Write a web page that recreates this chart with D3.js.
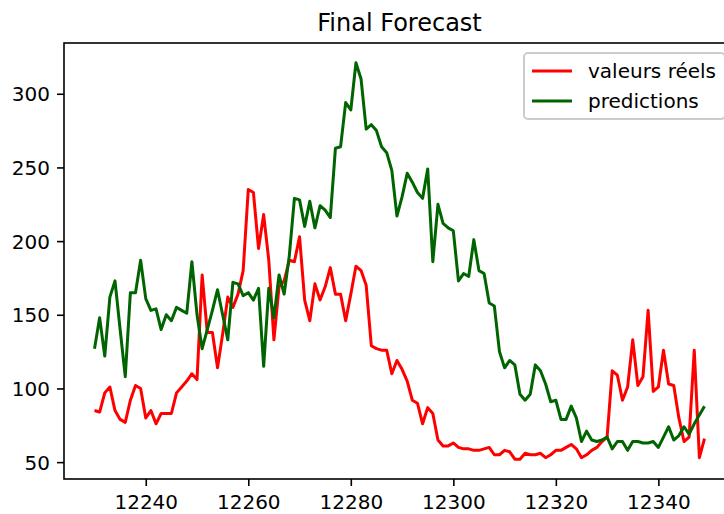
<!DOCTYPE html>
<html>
<head>
<meta charset="utf-8">
<script src="https://cdn.jsdelivr.net/npm/d3@7"></script>
<style>
  html, body { margin: 0; padding: 0; background: #fff; }
  svg { display: block; font-family: "DejaVu Sans", sans-serif; }
</style>
</head>
<body>
<svg id="chart" width="724" height="514"></svg>
<script>
// ---- data ----
const startIndex = 12230;
const realValues = [85, 84, 97, 101, 85, 79, 77, 92, 102, 100,
  80, 85, 76, 83, 83, 83, 97, 101, 105, 110,
  106, 177, 138, 138, 114, 137, 162, 155, 164, 180,
  235, 233, 195, 218, 187, 133, 169, 173, 187, 186,
  203, 160, 146, 171, 160, 169, 182, 164, 164, 146,
  164, 183, 180, 170, 129, 127, 126, 126, 110, 119,
  113, 105, 92, 90, 76, 87, 83, 65, 61, 61,
  63, 60, 59, 59, 58, 58, 59, 60, 55, 55,
  58, 57, 52, 52, 56, 55, 55, 56, 53, 55,
  58, 58, 60, 62, 59, 53, 55, 58, 60, 64,
  67, 112, 109, 92, 101, 133, 102, 108, 153, 98,
  101, 126, 103, 102, 80, 64, 67, 126, 53, 66];
const predValues = [127, 148, 122, 162, 173, 140, 108, 165, 165, 187,
  161, 153, 154, 140, 150, 146, 155, 153, 151, 186,
  150, 127, 140, 153, 167, 150, 133, 172, 171, 163,
  165, 160, 168, 115, 168, 148, 177, 164, 190, 229,
  228, 210, 227, 209, 224, 221, 216, 263, 264, 294,
  289, 321, 310, 276, 279, 275, 264, 260, 248, 217,
  230, 246, 240, 233, 229, 249, 186, 225, 212, 209,
  207, 173, 178, 176, 201, 180, 178, 158, 156, 125,
  114, 119, 116, 96, 92, 96, 116, 112, 103, 91,
  92, 79, 79, 88, 80, 64, 71, 65, 64, 65,
  67, 59, 64, 64, 58, 64, 64, 63, 63, 64,
  60, 67, 74, 65, 68, 74, 69, 76, 82, 88];
const xTicks = [12240, 12260, 12280, 12300, 12320, 12340];
const yTicks = [50, 100, 150, 200, 250, 300];
const seriesNames = ["valeurs réels", "predictions"];
const seriesColors = ["#ff0000", "#006400"];
const titleText = "Final Forecast";

(function () {
  // ---- layout ----
  const pL = 64, pR = 735, pT = 43, pB = 479;
  const svg = d3.select("#chart");

  const xs = realValues.map((_, i) => startIndex + i);
  const xMin = d3.min(xs), xMax = d3.max(xs);
  const xPad = (xMax - xMin) * 0.05;
  const allY = realValues.concat(predValues);
  const yMin = d3.min(allY), yMax = d3.max(allY);
  const yPad = (yMax - yMin) * 0.05;

  const x = d3.scaleLinear().domain([xMin - xPad, xMax + xPad]).range([pL, pR]);
  const y = d3.scaleLinear().domain([yMin - yPad, yMax + yPad]).range([pB, pT]);

  const line = d3.line().x((d, i) => x(startIndex + i)).y(d => y(d));
  [realValues, predValues].forEach((vals, k) => {
    svg.append("path")
      .datum(vals)
      .attr("d", line)
      .attr("fill", "none")
      .attr("stroke", seriesColors[k])
      .attr("stroke-width", 3)
      .attr("stroke-linejoin", "round")
      .attr("stroke-linecap", "butt");
  });

  const xAxis = d3.axisBottom(x).tickValues(xTicks).tickFormat(d3.format("d"))
    .tickSize(7).tickPadding(7);
  const yAxis = d3.axisLeft(y).tickValues(yTicks).tickFormat(d3.format("d"))
    .tickSize(7).tickPadding(7);

  const gx = svg.append("g").attr("transform", `translate(0,${pB})`).call(xAxis);
  const gy = svg.append("g").attr("transform", `translate(${pL},0)`).call(yAxis);
  [gx, gy].forEach(g => {
    g.select(".domain").remove();
    g.selectAll(".tick line").attr("stroke", "#000").attr("stroke-width", 1.6);
    g.selectAll(".tick text").attr("fill", "#000").style("font-size", "20px")
      .style("font-family", "DejaVu Sans");
  });
  gx.selectAll(".tick text").attr("dy", null).attr("y", 30);
  gy.selectAll(".tick text").attr("dy", "0.36em");

  svg.append("rect")
    .attr("x", pL).attr("y", pT)
    .attr("width", pR - pL).attr("height", pB - pT)
    .attr("fill", "none").attr("stroke", "#000").attr("stroke-width", 1.6);

  svg.append("text")
    .attr("x", (pL + pR) / 2).attr("y", 31)
    .attr("text-anchor", "middle")
    .style("font-size", "24px")
    .attr("fill", "#000")
    .text(titleText);

  const lgLeft = 524, lgTop = 53, lgW = 201, lgH = 66;
  const lg = svg.append("g");
  lg.append("rect")
    .attr("x", lgLeft).attr("y", lgTop).attr("width", lgW).attr("height", lgH)
    .attr("rx", 4).attr("ry", 4)
    .attr("fill", "#fff").attr("fill-opacity", 0.8)
    .attr("stroke", "#cccccc").attr("stroke-width", 2);
  seriesNames.forEach((name, k) => {
    const cy = lgTop + 18 + k * 30;
    lg.append("line")
      .attr("x1", lgLeft + 8).attr("x2", lgLeft + 48)
      .attr("y1", cy).attr("y2", cy)
      .attr("stroke", seriesColors[k]).attr("stroke-width", 3);
    lg.append("text")
      .attr("x", lgLeft + 64).attr("y", cy).attr("dy", "0.36em")
      .style("font-size", "20px").attr("fill", "#000")
      .text(name);
  });
})();
</script>
</body>
</html>
